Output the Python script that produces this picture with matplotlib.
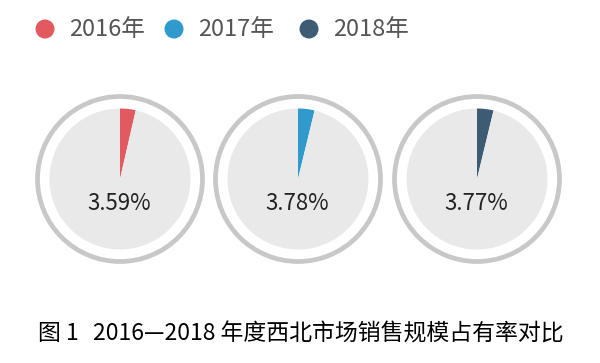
import matplotlib.pyplot as plt
from matplotlib.patches import Circle

plt.rcParams['font.family'] = ['Noto Sans CJK SC', 'DejaVu Sans']

# data
years = ['2016年', '2017年', '2018年']
shares = [3.59, 3.78, 3.77]
colors = ['#E05A5F', '#2F9ACB', '#3E5B74']
fig_no = '图 1'
caption = '2016—2018 年度西北市场销售规模占有率对比'

W, H = 600, 363
fig = plt.figure(figsize=(6, 3.63), dpi=100)
ax = fig.add_axes([0, 0, 1, 1])
ax.axis('off')

# legend
leg_x = [45, 174, 309]
for x, name, c in zip(leg_x, years, colors):
    ax.add_patch(Circle((x, H - 29), 9.5, color=c, lw=0))
    ax.text(x + 24, H - 30, name, fontsize=17, color='#555555',
            va='center', ha='left')

# pies with a grey ring around each
centers = [120, 298, 477]
cy = H - 179
for cx, s, c in zip(centers, shares, colors):
    ax.pie([s, 100 - s], colors=[c, '#E9E9E9'], startangle=90,
           counterclock=False, center=(cx, cy), radius=70.5,
           wedgeprops=dict(linewidth=0))
    ax.add_patch(Circle((cx, cy), 82.5, fill=False, edgecolor='#C8C8C8',
                        linewidth=3.4))
    ax.text(cx - 1, cy - 24, f'{s:.2f}%', fontsize=16, color='#222222',
            ha='center', va='center')

ax.set_xlim(0, W)
ax.set_ylim(0, H)
ax.set_aspect('equal')

# caption
ax.text(38, H - 334, fig_no, fontsize=16.5, color='black',
        ha='left', va='center')
ax.text(93, H - 334, caption, fontsize=16.5, color='black',
        ha='left', va='center')

fig.savefig('out.png', dpi=100)
